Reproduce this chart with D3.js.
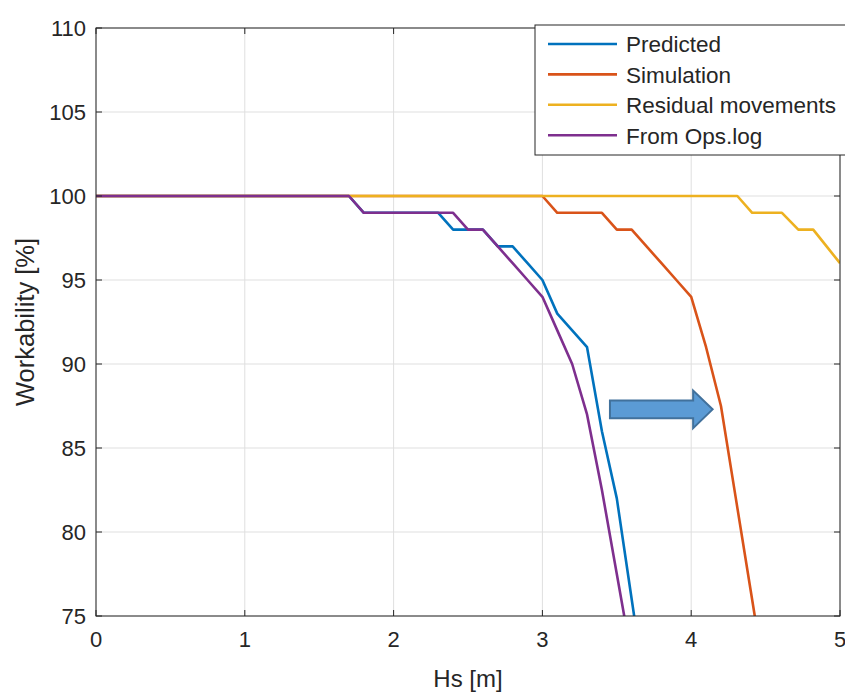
<!DOCTYPE html>
<html><head><meta charset="utf-8">
<script src="https://cdn.jsdelivr.net/npm/d3@7"></script>
<style>body{margin:0;background:#fff}svg{display:block}text{font-family:"Liberation Sans",Arial,Helvetica,sans-serif;fill:#262626}</style>
</head><body><svg id="c" width="845" height="692"></svg>
<script>
const seriesNames = ["Predicted","Simulation","Residual movements","From Ops.log"];
const seriesColors = ["#0072BD","#D95319","#EDB120","#7E2F8E"];
const predictedHs = [0,1.7,1.8,2.3,2.4,2.6,2.7,2.8,2.9,3.0,3.1,3.2,3.3,3.4,3.5,3.6,3.7];
const predictedW  = [100,100,99,99,98,98,97,97,96,95,93,92,91,86,82,76,70];
const simulationHs = [0,3.0,3.1,3.4,3.5,3.6,3.7,3.8,3.9,4.0,4.1,4.2,4.3,4.4,4.5];
const simulationW  = [100,100,99,99,98,98,97,96,95,94,91,87.5,82,76.5,71];
const residualHs = [0,4.31,4.41,4.61,4.72,4.82,4.91,5.0];
const residualW  = [100,100,99,99,98,98,97,96];
const opsHs = [0,1.7,1.8,2.4,2.5,2.6,2.7,2.8,2.9,3.0,3.1,3.2,3.3,3.4,3.5,3.6];
const opsW  = [100,100,99,99,98,98,97,96,95,94,92,90,87,82.5,77.5,72.5];
const xTicks = [0,1,2,3,4,5];
const yTicks = [75,80,85,90,95,100,105,110];
// annotation arrow (data units)
const arrowStart = 3.454, arrowHeadStart = 4.013, arrowTip = 4.144, arrowLevel = 87.3;

const svg = d3.select("#c");
const L = 96, R = 840, T = 28, B = 616;
const x = d3.scaleLinear().domain([0,5]).range([L,R]);
const y = d3.scaleLinear().domain([75,110]).range([B,T]);

// grid
svg.append("g").selectAll("line").data(xTicks).join("line")
  .attr("x1",d=>x(d)).attr("x2",d=>x(d)).attr("y1",T).attr("y2",B)
  .attr("stroke","#dfdfdf").attr("stroke-width",1);
svg.append("g").selectAll("line").data(yTicks).join("line")
  .attr("x1",L).attr("x2",R).attr("y1",d=>y(d)).attr("y2",d=>y(d))
  .attr("stroke","#dfdfdf").attr("stroke-width",1);

// clip
svg.append("clipPath").attr("id","clip").append("rect")
  .attr("x",L).attr("y",T).attr("width",R-L).attr("height",B-T);

const data = [
  predictedHs.map((h,i)=>[h,predictedW[i]]),
  simulationHs.map((h,i)=>[h,simulationW[i]]),
  residualHs.map((h,i)=>[h,residualW[i]]),
  opsHs.map((h,i)=>[h,opsW[i]])
];
const line = d3.line().x(d=>x(d[0])).y(d=>y(d[1]));
svg.append("g").attr("clip-path","url(#clip)").selectAll("path").data(data).join("path")
  .attr("d",line).attr("fill","none")
  .attr("stroke",(d,i)=>seriesColors[i]).attr("stroke-width",2.6)
  .attr("stroke-linejoin","round");

// axes box
const tick = 6;
const ax = svg.append("g");
ax.append("rect").attr("x",L).attr("y",T).attr("width",R-L).attr("height",B-T)
  .attr("fill","none").attr("stroke","#262626").attr("stroke-width",1);
xTicks.forEach(t=>{
  ax.append("line").attr("x1",x(t)).attr("x2",x(t)).attr("y1",B).attr("y2",B-tick).attr("stroke","#262626");
  ax.append("line").attr("x1",x(t)).attr("x2",x(t)).attr("y1",T).attr("y2",T+tick).attr("stroke","#262626");
});
yTicks.forEach(t=>{
  ax.append("line").attr("x1",L).attr("x2",L+tick).attr("y1",y(t)).attr("y2",y(t)).attr("stroke","#262626");
  ax.append("line").attr("x1",R).attr("x2",R-tick).attr("y1",y(t)).attr("y2",y(t)).attr("stroke","#262626");
});
ax.selectAll("text.xt").data(xTicks).join("text").attr("class","xt")
  .attr("x",d=>x(d)).attr("y",B+31).attr("text-anchor","middle")
  .attr("font-size",22).text(d=>d);
ax.selectAll("text.yt").data(yTicks).join("text").attr("class","yt")
  .attr("x",L-10).attr("y",d=>y(d)+8).attr("text-anchor","end")
  .attr("font-size",22).text(d=>d);
svg.append("text").attr("x",(L+R)/2).attr("y",687).attr("text-anchor","middle")
  .attr("font-size",24).text("Hs [m]");
svg.append("text").attr("transform",`translate(34,${(T+B)/2}) rotate(-90)`)
  .attr("text-anchor","middle").attr("font-size",25.5).text("Workability [%]");

// arrow
const sh = 0.53, hh = 1.12;
const pts = [
  [arrowStart, arrowLevel+sh],[arrowHeadStart, arrowLevel+sh],[arrowHeadStart, arrowLevel+hh],
  [arrowTip, arrowLevel],[arrowHeadStart, arrowLevel-hh],[arrowHeadStart, arrowLevel-sh],[arrowStart, arrowLevel-sh]
];
svg.append("polygon").attr("points",pts.map(p=>[x(p[0]),y(p[1])].join(",")).join(" "))
  .attr("fill","#5B9BD5").attr("stroke","#41719C").attr("stroke-width",2);

// legend
const lg = svg.append("g");
lg.append("rect").attr("x",535).attr("y",25).attr("width",315).attr("height",130)
  .attr("fill","#fff").attr("stroke","#262626").attr("stroke-width",1);
seriesNames.forEach((n,i)=>{
  const yy = 44 + i*30.4;
  lg.append("line").attr("x1",548).attr("x2",617).attr("y1",yy).attr("y2",yy)
    .attr("stroke",seriesColors[i]).attr("stroke-width",2.6);
  lg.append("text").attr("x",626).attr("y",yy+8.3).attr("font-size",22.5).text(n);
});
</script></body></html>
